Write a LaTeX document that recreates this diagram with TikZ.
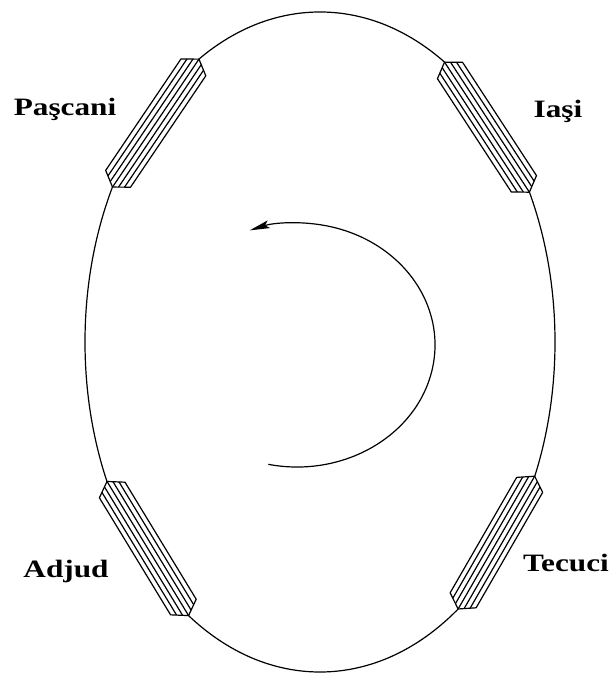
\documentclass[tikz,border=0pt]{standalone}
\usepackage{fontspec}
\newfontfamily\lblfont[FakeStretch=1.25]{Liberation Serif}
\usetikzlibrary{arrows.meta,calc}
\tikzset{
  outline/.style={line width=1.2pt},
  tubeedge/.style={line width=1.2pt, draw=black, fill=white, line join=round},
  stripe/.style={line width=1.2pt},
  lbl/.style={font=\lblfont\bfseries\fontsize{25}{30}\selectfont, anchor=base, inner sep=0pt},
  turn/.style={line width=1.2pt, -{Stealth[length=20pt,width=8pt,inset=4pt]}}
}
\newcommand{\drawtube}[2]{%
  \pgfmathsetmacro{\ax}{320+235*cos(#1)}%
  \pgfmathsetmacro{\ay}{333+330*sin(#1)}%
  \pgfmathsetmacro{\bx}{320+235*cos(#2)}%
  \pgfmathsetmacro{\by}{333+330*sin(#2)}%
  \pgfmathsetmacro{\ang}{atan2(\by-\ay,\bx-\ax)}%
  \pgfmathsetmacro{\len}{veclen(\bx-\ax,\by-\ay)}%
  \begin{scope}[shift={(\ax,\ay)},rotate=\ang]
    \path[tubeedge] (0,0) -- (10,15) -- (\len-10,15) -- (\len,0) -- (\len-10,-15) -- (10,-15) -- cycle;
    \begin{scope}
      \clip (0,0) -- (10,15) -- (\len-10,15) -- (\len,0) -- (\len-10,-15) -- (10,-15) -- cycle;
      \foreach \v in {-10,-5,0,5,10} \draw[stripe] (0,\v) -- (\len,\v);
    \end{scope}
  \end{scope}}
\begin{document}
\begin{tikzpicture}[x=1pt,y=1pt]
  \useasboundingbox (0,0) rectangle (611,675);
  \coordinate (c) at (320,333);
  \draw[outline] (c) ellipse[x radius=235, y radius=330];
  \drawtube{121}{152}
  \drawtube{58}{27}
  \drawtube{205}{236}
  \drawtube{-24}{-54}
  \coordinate (arrowstart) at ($(297,330)+(-102:138 and 122)$);
  \draw[turn] (arrowstart) arc[start angle=-102, end angle=110, x radius=138, y radius=122];
  \node[lbl] (pascani) at (65,559) {Paşcani};
  \node[lbl] (iasi) at (558,557) {Iaşi};
  \node[lbl] (adjud) at (66,97) {Adjud};
  \node[lbl] (tecuci) at (566,103) {Tecuci};
\end{tikzpicture}
\end{document}
